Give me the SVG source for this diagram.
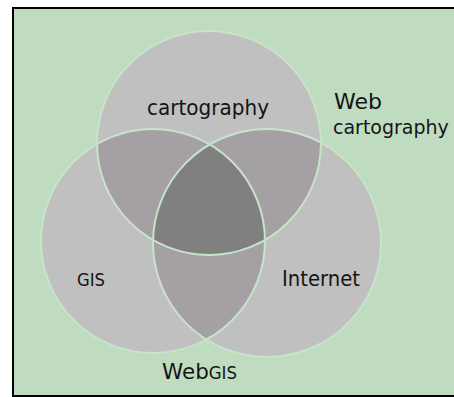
<svg xmlns="http://www.w3.org/2000/svg" width="454" height="397" viewBox="0 0 454 397">
  <style>
    .lbl { font-family: "DejaVu Sans", "Liberation Sans", sans-serif; font-size: 22px; fill: #141414; }
    .sc { font-size: 17px; }
    .fit { font-size: 19px; }
    .base { fill: #c0c0c0; }
    .dbl { fill: #a4a0a4; }
    .tri { fill: #808080; }
    .edge { fill: none; stroke: #c8e4c8; stroke-width: 2; }
  </style>
  <defs>
    <clipPath id="cT"><circle cx="209" cy="143" r="112"/></clipPath>
    <clipPath id="cL"><circle cx="153" cy="241" r="112"/></clipPath>
    <clipPath id="cR"><circle cx="267" cy="243" r="114"/></clipPath>
  </defs>
  <rect x="0" y="0" width="454" height="397" fill="#ffffff"/>
  <rect x="13" y="8" width="445" height="388" fill="#c0dcc0" stroke="#000000" stroke-width="2"/>

  <g id="circle-cartography"><circle class="base" cx="209" cy="143" r="112"/></g>
  <g id="circle-gis"><circle class="base" cx="153" cy="241" r="112"/></g>
  <g id="circle-internet"><circle class="base" cx="267" cy="243" r="114"/></g>

  <g id="overlaps">
    <g clip-path="url(#cT)"><circle class="dbl" cx="153" cy="241" r="112"/></g>
    <g clip-path="url(#cT)"><circle class="dbl" cx="267" cy="243" r="114"/></g>
    <g clip-path="url(#cL)"><circle class="dbl" cx="267" cy="243" r="114"/></g>
    <g clip-path="url(#cT)"><g clip-path="url(#cL)"><circle class="tri" cx="267" cy="243" r="114"/></g></g>
  </g>

  <g id="edges">
    <circle class="edge" cx="209" cy="143" r="112"/>
    <circle class="edge" cx="153" cy="241" r="112"/>
    <circle class="edge" cx="267" cy="243" r="114"/>
  </g>

  <g id="labels">
    <text class="lbl" x="147" y="115" textLength="122" lengthAdjust="spacingAndGlyphs">cartography</text>
    <text class="lbl" x="334" y="109" textLength="48" lengthAdjust="spacingAndGlyphs">Web</text>
    <text class="lbl fit" x="333" y="134">cartography</text>
    <text class="lbl sc" x="77" y="286" textLength="28" lengthAdjust="spacingAndGlyphs">GIS</text>
    <text class="lbl" x="282" y="286" textLength="78" lengthAdjust="spacingAndGlyphs">Internet</text>
    <text class="lbl" x="162" y="379" textLength="75" lengthAdjust="spacingAndGlyphs">Web<tspan class="sc">GIS</tspan></text>
  </g>
</svg>
